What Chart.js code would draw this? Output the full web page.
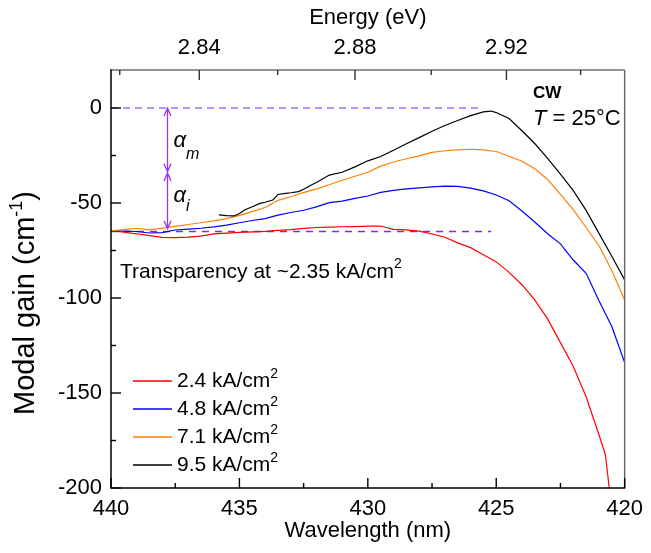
<!DOCTYPE html>
<html>
<head>
<meta charset="utf-8">
<script src="https://cdn.jsdelivr.net/npm/chart.js@4.4.1/dist/chart.umd.min.js"></script>
<style>
	body { margin: 0; background: #fff; }
</style>
</head>
<body>
<canvas id="chart" width="651" height="553"></canvas>
<script>
// wavelength grid (nm) shared by blue and orange
const gridWl = [440, 439.5, 439, 438.5, 438, 437.5, 437, 436.5, 436, 435.5, 435, 434.5, 434, 433.5, 433, 432.5, 432, 431.5, 431, 430.5,
	430, 429.5, 429, 428.5, 428, 427.5, 427, 426.5, 426, 425.5, 425, 424.5, 424, 423.5, 423, 422.5, 422, 421.5, 421, 420.5, 420];

const redWl = [440, 439.5, 439, 438.5, 438, 437.5, 437, 436.5, 436, 435.5, 435, 434.5, 434, 433.5, 433, 432.5, 432, 431.5, 431, 430.5,
	430, 429.5, 429, 428.5, 428, 427.5, 427, 426.5, 426, 425.5, 425, 424.5, 424, 423.5, 423, 422.5, 422, 421.5, 421, 420.75, 420.6, 420.5];
const redGain = [-64.6, -65.4, -66.2, -67.2, -68.1, -68.2, -68.0, -67.4, -66.3, -65.9, -65.5, -65.2, -64.9, -64.4, -64.0, -63.4, -62.9, -62.7, -62.5, -62.4,
	-62.2, -62.1, -63.9, -64.1, -64.8, -66.3, -68.0, -71.0, -73.5, -77.2, -81.0, -86.5, -93.0, -101.0, -111.0, -123.5, -136.0, -152.0, -172.0, -182.5, -200, -212];

const blueGain = [-64.6, -64.8, -65.0, -65.8, -65.6, -64.2, -63.8, -63.3, -62.6, -61.6, -60.4, -59.2, -58.2, -56.4, -55.0, -53.8, -52.0, -49.8, -49.0, -47.6,
	-46.3, -44.4, -43.4, -42.6, -42.0, -41.5, -41.1, -41.3, -42.2, -43.6, -45.8, -48.8, -54.2, -60.0, -66.2, -71.5, -80.0, -87.0, -101.5, -115.0, -134.0];

const orangeGain = [-64.6, -64.0, -63.3, -64.1, -63.2, -62.3, -61.3, -60.4, -59.4, -58.2, -56.5, -54.5, -52.4, -48.6, -46.7, -44.5, -42.6, -40.4, -38.0, -35.9,
	-33.8, -30.6, -28.4, -26.7, -25.2, -23.4, -22.5, -22.0, -21.7, -22.0, -22.9, -25.4, -28.0, -32.0, -37.6, -45.5, -53.5, -62.9, -72.5, -85.5, -101.0];

const blackWl = [435.8, 435.5, 435.2, 435.0, 434.8, 434.5, 434.2, 434.0, 433.7, 433.5, 433.2, 433.0, 432.7, 432.5, 432.2, 432.0, 431.5, 431.0, 430.5, 430.0,
	429.5, 429.0, 428.5, 428.0, 427.5, 427.0, 426.5, 426.0, 425.5, 425.2, 425.0, 424.5, 424.0, 423.5, 423.0, 422.5, 422.0, 421.5, 421.0, 420.5, 420.0];
const blackGain = [-56.3, -56.6, -56.8, -55.5, -53.7, -52.0, -50.2, -49.6, -48.4, -45.5, -44.9, -44.6, -44.0, -42.8, -40.5, -39.2, -35.3, -33.8, -31.0, -27.8,
	-25.5, -22.2, -18.8, -15.6, -12.2, -9.2, -6.6, -4.0, -2.0, -1.6, -2.4, -5.5, -12.0, -18.7, -26.5, -34.8, -43.5, -53.9, -66.0, -78.0, -90.5];

// reference lines: 0 gain and transparency level
const zeroLineWl = [440, 425.6];
const zeroLineGain = [0, 0];
const transLineWl = [440, 425.2];
const transLineGain = [-65, -65];

// loss arrows (alpha_m, alpha_i)
const arrowWl = 437.8;
const alphaM = [0, -33.5];
const alphaI = [-34.2, -63.5];

const legendLabels = ['2.4 kA/cm', '4.8 kA/cm', '7.1 kA/cm', '9.5 kA/cm'];

const wlTicks = [440, 437.5, 435, 432.5, 430, 427.5, 425, 422.5, 420];
const gainTicks = [-200, -175, -150, -125, -100, -75, -50, -25, 0];
const energyTicks = [2.82, 2.84, 2.86, 2.88, 2.90, 2.92, 2.94];
const energyLabels = ['', '2.84', '', '2.88', '', '2.92', ''];

const HC = 1239.84;
const FONT = "'Liberation Sans', Arial, sans-serif";

function series(wl, gain) {
	return wl.map((w, i) => ({ x: w, y: gain[i] }));
}

// draw a run of text pieces (for superscripts / subscripts)
function drawParts(ctx, x, y, parts) {
	for (const p of parts) {
		ctx.font = p.font;
		ctx.fillText(p.text, x, y + (p.dy || 0));
		x += ctx.measureText(p.text).width;
	}
	return x;
}
function partsWidth(ctx, parts) {
	let w = 0;
	for (const p of parts) { ctx.font = p.font; w += ctx.measureText(p.text).width; }
	return w;
}

// frame and inward tick marks
const axisTicks = {
	id: 'axisTicks',
	afterDatasetsDraw(chart) {
		const ctx = chart.ctx;
		const a = chart.chartArea;
		const xs = chart.scales.x, ys = chart.scales.y;
		ctx.save();
		ctx.setLineDash([]);
		ctx.fillStyle = '#666';
		ctx.fillRect(a.left, a.top - 0.7, a.right - a.left, 1.4);
		ctx.fillRect(a.right - 0.7, a.top, 1.4, a.bottom - a.top);
		ctx.fillStyle = '#000';
		ctx.fillRect(a.left - 0.75, a.top - 0.7, 1.5, a.bottom - a.top + 1.4);
		ctx.fillRect(a.left, a.bottom - 0.75, a.right - a.left + 0.7, 1.5);
		for (let i = 0; i < wlTicks.length; i++) {
			const p = xs.getPixelForValue(wlTicks[i]);
			const len = (i % 2 === 0) ? 10 : 5;
			ctx.fillRect(p - 0.7, a.bottom - len, 1.4, len);
		}
		for (let i = 0; i < gainTicks.length; i++) {
			const p = ys.getPixelForValue(gainTicks[i]);
			const len = (i % 2 === 0) ? 10 : 5;
			ctx.fillRect(a.left, p - 0.7, len, 1.4);
		}
		ctx.fillStyle = '#333';
		for (let i = 0; i < energyTicks.length; i++) {
			const p = xs.getPixelForValue(HC / energyTicks[i]);
			const len = energyLabels[i] ? 10 : 5;
			ctx.fillRect(p - 0.7, a.top, 1.4, len);
		}
		ctx.restore();
	}
};

const extras = {
	id: 'extras',
	afterDraw(chart) {
		const ctx = chart.ctx;
		const xs = chart.scales.x, ys = chart.scales.y;
		ctx.save();
		ctx.setLineDash([]);

		// double arrows
		ctx.strokeStyle = '#9933ff';
		ctx.lineWidth = 1.3;
		const ax = xs.getPixelForValue(arrowWl);
		[alphaM, alphaI].forEach(r => {
			const y1 = ys.getPixelForValue(r[0]), y2 = ys.getPixelForValue(r[1]);
			ctx.beginPath();
			ctx.moveTo(ax, y1); ctx.lineTo(ax, y2);
			ctx.moveTo(ax - 3.5, y1 + 8); ctx.lineTo(ax, y1); ctx.lineTo(ax + 3.5, y1 + 8);
			ctx.moveTo(ax - 3.5, y2 - 8); ctx.lineTo(ax, y2); ctx.lineTo(ax + 3.5, y2 - 8);
			ctx.stroke();
		});

		// texts
		ctx.fillStyle = '#000';
		ctx.textBaseline = 'alphabetic';
		ctx.textAlign = 'left';
		drawParts(ctx, ax + 6, 147, [{ text: 'α', font: 'italic 22px ' + FONT }, { text: 'm', font: 'italic 16px ' + FONT, dy: 12 }]);
		drawParts(ctx, ax + 6, 202, [{ text: 'α', font: 'italic 22px ' + FONT }, { text: 'i', font: 'italic 16px ' + FONT, dy: 9 }]);
		drawParts(ctx, 120, 278, [{ text: 'Transparency at ~2.35 kA/cm', font: '21px ' + FONT }, { text: '2', font: '14px ' + FONT, dy: -10 }]);
		drawParts(ctx, 533, 98, [{ text: 'CW', font: 'bold 17px ' + FONT }]);
		drawParts(ctx, 533, 125, [{ text: 'T', font: 'italic 22px ' + FONT }, { text: ' = 25°C', font: '22px ' + FONT }]);

		// legend
		const rows = [381, 409, 437, 465];
		legendLabels.forEach((lab, i) => {
			const ds = chart.data.datasets[i];
			ctx.strokeStyle = ds.borderColor;
			ctx.lineWidth = 1.5;
			ctx.beginPath();
			ctx.moveTo(133, rows[i]); ctx.lineTo(172, rows[i]);
			ctx.stroke();
			drawParts(ctx, 177, rows[i] + 6, [{ text: lab, font: '21px ' + FONT }, { text: '2', font: '14px ' + FONT, dy: -9 }]);
		});

		// y axis title
		const yParts = [{ text: 'Modal gain (cm', font: '29px ' + FONT }, { text: '-1', font: '18px ' + FONT, dy: -12 }, { text: ')', font: '29px ' + FONT }];
		ctx.translate(34, 303);
		ctx.rotate(-Math.PI / 2);
		drawParts(ctx, -partsWidth(ctx, yParts) / 2, 0, yParts);

		ctx.restore();
	}
};

const lineStyle = { pointRadius: 0, borderWidth: 1.2, fill: false, tension: 0 };

let config = {
	type: 'line',
	data: {
		datasets: [
			{ ...lineStyle, label: legendLabels[0], data: series(redWl, redGain), borderColor: '#ff0000', order: 4 },
			{ ...lineStyle, label: legendLabels[1], data: series(gridWl, blueGain), borderColor: '#0000ff', order: 3 },
			{ ...lineStyle, label: legendLabels[2], data: series(gridWl, orangeGain), borderColor: '#ff8000', order: 2 },
			{ ...lineStyle, label: legendLabels[3], data: series(blackWl, blackGain), borderColor: '#000000', order: 1 },
			{ ...lineStyle, label: 'zero', data: series(zeroLineWl, zeroLineGain), borderColor: '#a070ff', borderWidth: 1.5, borderDash: [7, 5], order: 6 },
			{ ...lineStyle, label: 'transparency', data: series(transLineWl, transLineGain), borderColor: '#7a2ee6', borderWidth: 1.3, borderDash: [7, 6], order: 5 }
		]
	},
	options: {
		responsive: false,
		animation: false,
		layout: { padding: { left: 0, right: 22, top: 0, bottom: 0 } },
		plugins: {
			legend: { display: false },
			tooltip: { enabled: false }
		},
		scales: {
			x: {
				type: 'linear', position: 'bottom', min: 420, max: 440, reverse: true,
				afterBuildTicks: s => { s.ticks = wlTicks.map(v => ({ value: v })); },
				afterFit: s => { s.height = 65; },
				grid: { display: false, drawTicks: false },
				border: { display: false },
				ticks: {
					autoSkip: false, maxRotation: 0, padding: 8, color: '#000',
					font: { size: 22, family: FONT },
					callback: v => (v % 5 === 0 ? String(v) : '')
				},
				title: { display: true, text: 'Wavelength (nm)', color: '#000', font: { size: 22, family: FONT }, padding: { top: 0, bottom: 9 } }
			},
			xTop: {
				type: 'linear', position: 'top', min: 420, max: 440, reverse: true, display: true,
				afterBuildTicks: s => { s.ticks = energyTicks.map(e => ({ value: HC / e })); },
				afterFit: s => { s.height = 70; },
				grid: { display: false, drawTicks: false },
				border: { display: false },
				ticks: {
					autoSkip: false, maxRotation: 0, padding: 9, color: '#000',
					font: { size: 22, family: FONT },
					callback: (v, i) => energyLabels[i]
				},
				title: { display: true, text: 'Energy (eV)', color: '#000', font: { size: 22, family: FONT }, padding: { top: 5, bottom: 0 } }
			},
			y: {
				type: 'linear', min: -200, max: 20,
				afterBuildTicks: s => { s.ticks = gainTicks.map(v => ({ value: v })); },
				afterFit: s => { s.width = 111; },
				grid: { display: false, drawTicks: false },
				border: { display: false },
				ticks: {
					autoSkip: false, padding: 9, color: '#000',
					font: { size: 22, family: FONT },
					callback: v => (v % 50 === 0 ? String(v) : '')
				}
			}
		}
	},
	plugins: [axisTicks, extras]
};

window.addEventListener('load', () => {
	const ctx = document.getElementById('chart').getContext('2d');
	const myChart = new Chart(ctx, config);
});
</script>
</body>
</html>
